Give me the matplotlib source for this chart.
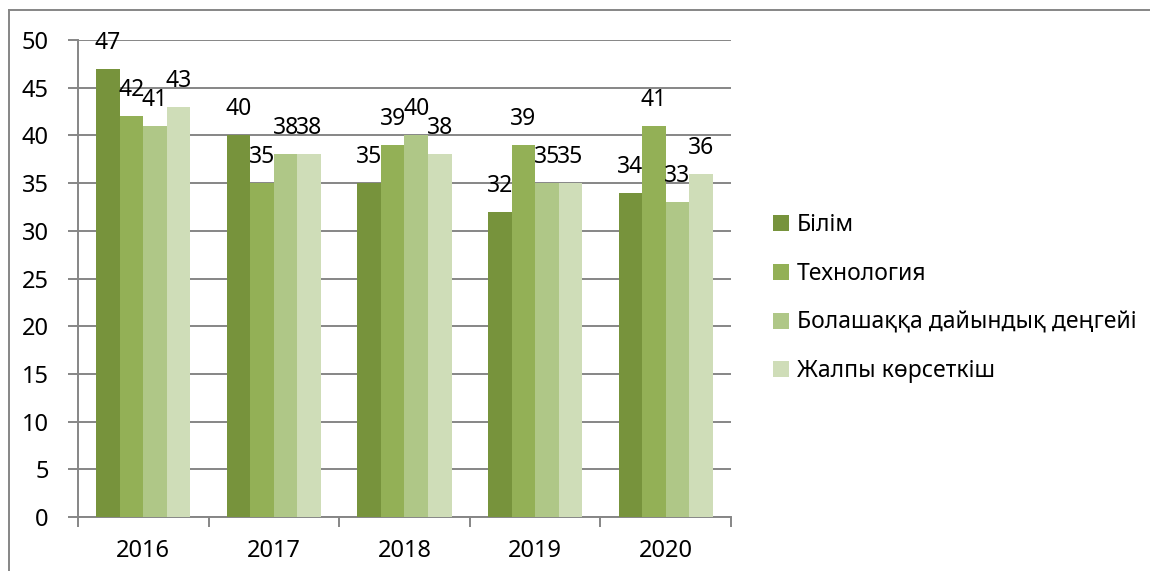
import matplotlib
matplotlib.use("Agg")
import matplotlib.pyplot as plt
import numpy as np
from matplotlib.lines import Line2D

plt.rcParams['font.family'] = ['Noto Sans', 'DejaVu Sans']

years = ['2016', '2017', '2018', '2019', '2020']
series_names = ['Білім', 'Технология', 'Болашаққа дайындық деңгейі', 'Жалпы көрсеткіш']
bilim = [47, 40, 35, 32, 34]
tech = [42, 35, 39, 39, 41]
bolashak = [41, 38, 40, 35, 33]
zhalpy = [43, 38, 38, 35, 36]
series = [bilim, tech, bolashak, zhalpy]
colors = ['#77933C', '#93B056', '#AFC787', '#CFDDB8']

W, H = 1150, 571
fig = plt.figure(figsize=(W / 100, H / 100), dpi=100)
ax = fig.add_axes([78 / W, 1 - 517 / H, (731 - 78) / W, (517 - 40) / H])

x = np.arange(len(years))
bw = 0.18
for i, (vals, c, name) in enumerate(zip(series, colors, series_names)):
    pos = x + (i - 1.5) * bw
    ax.bar(pos, vals, width=bw, color=c, label=name, zorder=3, linewidth=0)
    for p, v in zip(pos, vals):
        ax.annotate(str(v), (p, v), xytext=(0, 20), textcoords='offset pixels',
                    ha='center', va='baseline', fontsize=16.5, color='black', zorder=5)

ax.set_xlim(-0.5, len(years) - 0.5)
ax.set_ylim(0, 50)
ax.set_yticks(np.arange(0, 51, 5))
ax.yaxis.grid(True, color='#868686', linewidth=1.4, zorder=0)
ax.set_axisbelow(True)

ax.set_xticks(x)
ax.set_xticklabels(years)
ax.set_xticks(np.arange(-0.5, len(years)), minor=True)
ax.tick_params(axis='x', which='major', length=0, pad=16, labelsize=17)
ax.tick_params(axis='x', which='minor', length=7, width=1.4, color='#868686')
ax.tick_params(axis='y', length=7, width=1.4, color='#868686', pad=14, labelsize=17)

for s in ['top', 'right']:
    ax.spines[s].set_visible(False)
for s in ['left', 'bottom']:
    ax.spines[s].set_color('#868686')
    ax.spines[s].set_linewidth(1.4)

leg = fig.legend(loc='upper left', bbox_to_anchor=(764 / W, 1 - 204 / H),
                 frameon=False, fontsize=16.5, handlelength=0.7, handleheight=0.7,
                 handletextpad=0.35, labelspacing=1.08, borderaxespad=0)

# outer border (left and top visible)
fig.add_artist(Line2D([9 / W, 9 / W], [0, 1 - 10 / H], color='#868686', linewidth=1.4))
fig.add_artist(Line2D([9 / W, 1], [1 - 10 / H, 1 - 10 / H], color='#868686', linewidth=1.4))

fig.savefig('out.png', dpi=100)
